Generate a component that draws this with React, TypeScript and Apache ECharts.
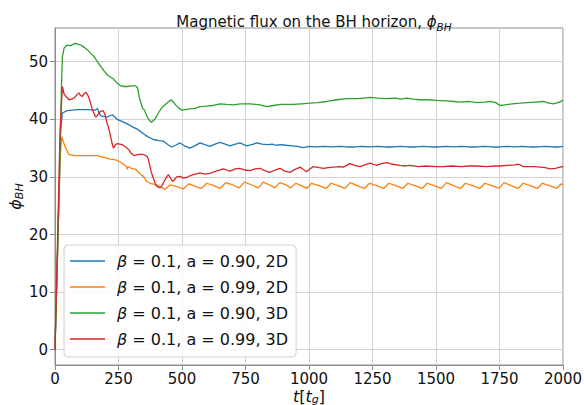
import React, { useEffect, useRef } from 'react';
import * as echarts from 'echarts';

const seriesNames = [
  'β = 0.1, a = 0.90, 2D',
  'β = 0.1, a = 0.99, 2D',
  'β = 0.1, a = 0.90, 3D',
  'β = 0.1, a = 0.99, 3D',
];
const seriesColors = ['#1f77b4', '#ff7f0e', '#2ca02c', '#d62728'];
const xTickStep = 250;
const yTicks = [0, 10, 20, 30, 40, 50];

const blue2D = [
  [0, 0], [22, 38], [29, 41.1], [48, 41.5], [88, 41.7], [127, 41.7], [160, 41.6], [167, 41.9], [173, 41.2], [180, 40.6],
  [206, 40.4], [226, 40.8], [245, 40.0], [265, 39.6], [285, 39.2], [305, 38.7], [324, 38.3], [348, 37.5], [365, 37.0],
  [387, 36.5], [410, 36.3], [427, 36.2], [445, 35.6], [459, 35.2], [475, 35.5], [492, 35.9], [510, 35.4], [531, 35.0],
  [550, 35.4], [571, 35.9], [590, 35.6], [610, 35.3], [630, 35.7], [650, 36.0], [670, 35.7], [689, 35.4], [710, 35.7],
  [728, 35.9], [755, 35.4], [775, 35.6], [794, 35.9], [815, 35.7], [840, 35.6], [855, 35.7], [870, 35.5], [890, 35.6],
  [910, 35.5], [935, 35.4], [955, 35.3], [978, 35.1], [1000, 35.3], [1030, 35.2], [1060, 35.3], [1090, 35.2], [1120, 35.3],
  [1150, 35.2], [1180, 35.2], [1210, 35.3], [1240, 35.2], [1270, 35.3], [1300, 35.2], [1330, 35.2], [1360, 35.3],
  [1390, 35.2], [1420, 35.2], [1450, 35.3], [1480, 35.2], [1510, 35.2], [1540, 35.3], [1570, 35.2], [1600, 35.3],
  [1630, 35.2], [1660, 35.2], [1690, 35.3], [1720, 35.2], [1750, 35.2], [1780, 35.3], [1810, 35.2], [1840, 35.3],
  [1870, 35.2], [1900, 35.2], [1930, 35.3], [1960, 35.2], [1985, 35.2], [2000, 35.3],
];

const orange2D = [
  [0, 0], [20, 33], [26, 37.0], [32, 36.2], [42, 35.0], [55, 33.9], [75, 33.7], [120, 33.7], [167, 33.7], [193, 33.4],
  [217, 33.1], [232, 33.0], [243, 32.9], [260, 32.5], [272, 32.1], [282, 31.8], [285, 31.3], [288, 31.8], [300, 31.5],
  [318, 31.3], [335, 30.5], [348, 30.1], [361, 29.2], [374, 28.9], [400, 28.6], [420, 28.2], [433, 27.8], [452, 28.6],
  [480, 28.3], [505, 27.9], [528, 28.8], [550, 28.4], [575, 28.0], [598, 28.9], [625, 28.5], [650, 28.0], [672, 29.0],
  [700, 28.6], [725, 28.1], [746, 29.1], [775, 28.6], [800, 28.1], [820, 29.1], [845, 28.6], [865, 28.1], [885, 29.0],
  [910, 28.6], [928, 28.1], [948, 28.9], [970, 28.5], [991, 28.0], [1010, 28.9], [1040, 28.5], [1067, 28.0], [1087, 28.9],
  [1115, 28.5], [1142, 28.0], [1162, 29.0], [1190, 28.5], [1218, 28.0], [1238, 28.9], [1266, 28.5], [1294, 28.0],
  [1314, 28.9], [1342, 28.5], [1369, 28.0], [1389, 28.9], [1417, 28.5], [1445, 28.0], [1465, 28.9], [1493, 28.5],
  [1521, 28.0], [1541, 29.0], [1568, 28.5], [1596, 28.0], [1616, 28.9], [1644, 28.5], [1672, 28.0], [1692, 28.9],
  [1720, 28.5], [1748, 28.0], [1768, 29.0], [1795, 28.5], [1823, 28.0], [1843, 28.9], [1871, 28.5], [1899, 28.0],
  [1919, 28.9], [1947, 28.5], [1975, 28.0], [1993, 28.8], [2000, 28.6],
];

const green3D = [
  [0, 0], [18, 30], [25, 45], [29, 50.9], [36, 52.4], [48, 52.9], [62, 52.8], [70, 53.0], [81, 53.2], [92, 53.0],
  [101, 52.9], [115, 52.5], [127, 52.1], [140, 51.5], [154, 50.9], [167, 50.0], [180, 49.2], [193, 48.4], [206, 47.7],
  [220, 47.3], [232, 46.9], [245, 46.3], [259, 45.8], [272, 45.7], [285, 45.7], [300, 45.8], [318, 45.8], [325, 45.5],
  [331, 44.0], [337, 43.0], [344, 42.0], [352, 41.6], [362, 40.5], [372, 39.8], [380, 39.5], [393, 40.0], [407, 41.1],
  [420, 42.0], [440, 42.8], [457, 43.4], [468, 42.9], [479, 42.3], [490, 41.9], [499, 41.6], [515, 41.7], [531, 41.8],
  [550, 41.9], [571, 42.2], [597, 42.3], [620, 42.4], [650, 42.7], [675, 42.6], [702, 42.5], [730, 42.7], [768, 42.7],
  [790, 42.6], [807, 42.5], [833, 42.2], [860, 42.4], [890, 42.6], [938, 42.6], [970, 42.7], [1004, 42.8], [1035, 42.9],
  [1070, 43.1], [1110, 43.4], [1148, 43.6], [1190, 43.6], [1215, 43.7], [1240, 43.8], [1270, 43.7], [1306, 43.6],
  [1340, 43.7], [1360, 43.5], [1385, 43.7], [1410, 43.5], [1437, 43.4], [1470, 43.4], [1503, 43.3], [1540, 43.2],
  [1570, 43.1], [1594, 43.0], [1630, 43.1], [1660, 42.9], [1690, 43.0], [1713, 43.1], [1735, 42.9], [1752, 42.4],
  [1770, 42.5], [1800, 42.7], [1831, 42.8], [1860, 42.9], [1890, 43.0], [1923, 43.1], [1945, 42.8], [1962, 42.7],
  [1980, 42.9], [2000, 43.3],
];

const red3D = [
  [0, 0], [20, 38], [29, 45.7], [35, 44.5], [42, 44.0], [55, 43.4], [65, 43.5], [75, 43.7], [85, 44.2], [94, 44.6],
  [101, 44.1], [108, 44.0], [115, 44.5], [121, 44.7], [128, 44.3], [134, 43.7], [141, 42.6], [147, 41.7], [154, 41.0],
  [160, 40.4], [166, 40.6], [173, 41.1], [180, 41.4], [190, 41.5], [197, 40.8], [203, 39.6], [210, 38.7], [219, 37.0],
  [225, 35.8], [230, 35.0], [238, 35.6], [245, 35.8], [255, 35.7], [265, 35.6], [278, 35.2], [291, 34.7], [300, 34.1],
  [311, 33.7], [320, 33.8], [331, 33.9], [348, 33.9], [361, 33.6], [367, 33.2], [374, 31.8], [380, 30.7], [387, 29.8],
  [394, 28.9], [400, 28.4], [413, 28.1], [420, 28.4], [433, 29.5], [446, 30.4], [455, 29.8], [463, 29.2], [472, 29.6],
  [479, 30.0], [492, 30.1], [505, 29.8], [518, 29.9], [531, 30.2], [545, 30.4], [571, 30.7], [590, 30.5], [610, 30.6],
  [635, 31.0], [663, 31.4], [676, 31.2], [689, 31.0], [710, 31.4], [728, 31.5], [748, 31.2], [768, 31.1], [788, 31.4],
  [807, 31.5], [825, 31.1], [846, 30.8], [866, 31.2], [886, 31.5], [905, 31.0], [925, 30.8], [945, 31.3], [965, 31.7],
  [978, 31.3], [991, 30.9], [1004, 31.4], [1017, 31.8], [1040, 31.6], [1057, 31.5], [1075, 31.6], [1096, 31.7],
  [1122, 31.8], [1135, 31.7], [1148, 32.0], [1161, 32.3], [1180, 32.0], [1201, 31.8], [1220, 32.1], [1240, 32.4],
  [1253, 32.2], [1266, 32.0], [1285, 32.3], [1306, 32.5], [1330, 32.2], [1358, 32.0], [1380, 31.9], [1398, 32.0],
  [1430, 31.8], [1460, 31.9], [1500, 31.8], [1529, 31.8], [1560, 31.9], [1600, 31.8], [1630, 31.9], [1660, 31.9],
  [1700, 31.8], [1730, 31.9], [1752, 31.9], [1780, 32.0], [1810, 32.1], [1824, 32.2], [1835, 32.0], [1843, 31.8],
  [1870, 31.8], [1890, 31.8], [1909, 31.7], [1930, 31.6], [1949, 31.4], [1970, 31.5], [1995, 31.8], [2000, 31.7],
];

const seriesData = [blue2D, orange2D, green3D, red3D];

const FONT = 'DejaVu Sans';
const AXIS_GREY = '#8c8c8c';
const TXT = '#111';

export default function App() {
  const ref = useRef<HTMLDivElement>(null);
  useEffect(() => {
    const chart = echarts.init(ref.current!, null, { renderer: 'svg' });
    chart.setOption({
      animation: false,
      textStyle: { fontFamily: FONT },
      title: {
        text: '{n|Magnetic flux on the BH horizon, }{i|ϕ}{s|BH}',
        left: 309,
        textAlign: 'center',
        top: 7,
        textStyle: {
          fontWeight: 'normal',
          rich: {
            n: { fontFamily: FONT, fontSize: 15, fontWeight: 'normal', color: TXT, lineHeight: 20 },
            i: { fontFamily: FONT, fontSize: 15, fontWeight: 'normal', fontStyle: 'italic', color: TXT, lineHeight: 20 },
            s: { fontFamily: FONT, fontSize: 10.5, fontWeight: 'normal', fontStyle: 'italic', color: TXT, lineHeight: 12, verticalAlign: 'bottom' },
          },
        },
      },
      grid: {
        left: 55, right: 21, top: 28, bottom: 40, containLabel: false,
        outerBoundsMode: 'none',
        show: true, borderColor: AXIS_GREY, borderWidth: 1, backgroundColor: 'transparent',
      },
      legend: {
        orient: 'vertical',
        left: 64,
        top: 245,
        padding: [7, 8, 9, 6],
        icon: 'rect',
        itemWidth: 35,
        itemHeight: 1.5,
        itemGap: 8,
        backgroundColor: 'rgba(255,255,255,0.85)',
        borderColor: '#d0d0d0',
        borderWidth: 1,
        borderRadius: 4,
        data: seriesNames,
        formatter: (name: string) => name.replace('β', '{b|β}'),
        textStyle: {
          fontFamily: FONT,
          fontSize: 16,
          color: TXT,
          lineHeight: 18,
          padding: [0, 0, 0, 7],
          rich: {
            b: { fontFamily: FONT, fontSize: 16, fontStyle: 'italic', color: TXT, lineHeight: 18 },
          },
        },
      },
      xAxis: {
        type: 'value',
        min: 0,
        max: 2000,
        interval: xTickStep,
        name: '{i|t}[{i|t}{s|g}]',
        nameLocation: 'middle',
        nameGap: 22,
        nameMoveOverlap: false,
        nameTextStyle: {
          fontFamily: FONT, fontSize: 16, color: TXT, lineHeight: 18,
          rich: {
            i: { fontFamily: FONT, fontSize: 16, fontStyle: 'italic', color: TXT, lineHeight: 18 },
            s: { fontFamily: FONT, fontSize: 11, fontStyle: 'italic', color: TXT, lineHeight: 11, verticalAlign: 'bottom' },
          },
        },
        axisLine: { show: true, onZero: false, lineStyle: { color: AXIS_GREY, width: 1 } },
        axisTick: { show: true, length: 5, lineStyle: { color: AXIS_GREY } },
        axisLabel: { fontFamily: FONT, fontSize: 15, color: TXT, margin: 6, formatter: (v: number) => String(v) },
        splitLine: { show: true, lineStyle: { color: '#d3d3d3', width: 1 } },
      },
      yAxis: {
        type: 'value',
        min: -2.66,
        max: 55.86,
        name: '{i|ϕ}{s|BH}',
        nameLocation: 'middle',
        nameRotate: 90,
        nameGap: 30,
        nameMoveOverlap: false,
        nameTextStyle: {
          fontFamily: FONT, fontSize: 16, color: TXT, lineHeight: 20,
          rich: {
            i: { fontFamily: FONT, fontSize: 16, fontStyle: 'italic', color: TXT, lineHeight: 20 },
            s: { fontFamily: FONT, fontSize: 11, fontStyle: 'italic', color: TXT, lineHeight: 12, verticalAlign: 'bottom' },
          },
        },
        axisLine: { show: true, onZero: false, lineStyle: { color: AXIS_GREY, width: 1 } },
        axisTick: { show: true, length: 5, lineStyle: { color: AXIS_GREY }, customValues: yTicks },
        axisLabel: { fontFamily: FONT, fontSize: 15, color: TXT, margin: 7, customValues: yTicks },
        splitLine: { show: true, lineStyle: { color: '#d3d3d3', width: 1 } },
      },
      series: seriesData.map((d, i) => ({
        name: seriesNames[i],
        type: 'line',
        data: d,
        symbol: 'none',
        showSymbol: false,
        lineStyle: { color: seriesColors[i], width: 1.3 },
        itemStyle: { color: seriesColors[i] },
        z: 2 + i,
      })),
    });
    return () => chart.dispose();
  }, []);
  return <div ref={ref} style={{ position: 'absolute', left: 0, top: 0, width: 584, height: 405 }} />;
}
